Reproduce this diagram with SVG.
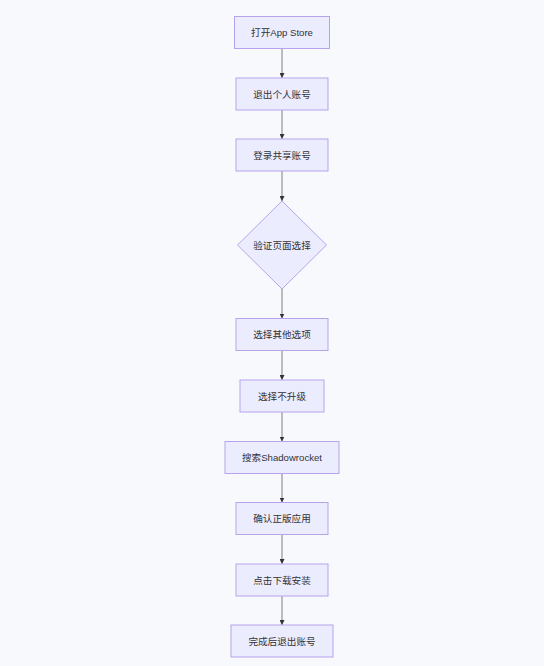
<svg xmlns="http://www.w3.org/2000/svg" width="544" height="666" viewBox="0 0 544 666">
<style>
.bg{fill:#f8f9fc}
.n{fill:#ececff;stroke:#b7a3ec;stroke-width:1}
.t{font-family:"Liberation Sans","Noto Sans CJK SC",sans-serif;font-size:9.6px;fill:#333;text-anchor:middle;dominant-baseline:central}
.e{stroke:#b5b5b5;stroke-width:1.8;fill:none}
</style>
<defs>
<marker id="arr" viewBox="0 0 10 10" refX="10" refY="5" markerWidth="5" markerHeight="5" markerUnits="userSpaceOnUse" orient="auto">
<path d="M0,0 L10,5 L0,10 z" fill="#333"/>
</marker>
</defs>
<rect class="bg" x="0" y="0" width="544" height="666"/>
<g id="edges">
<line class="e" x1="282" y1="48.5" x2="282" y2="78" marker-end="url(#arr)"/>
<line class="e" x1="282" y1="110" x2="282" y2="139" marker-end="url(#arr)"/>
<line class="e" x1="282" y1="171" x2="282" y2="201" marker-end="url(#arr)"/>
<line class="e" x1="282" y1="289" x2="282" y2="318.5" marker-end="url(#arr)"/>
<line class="e" x1="282" y1="350.5" x2="282" y2="380" marker-end="url(#arr)"/>
<line class="e" x1="282" y1="412" x2="282" y2="441.5" marker-end="url(#arr)"/>
<line class="e" x1="282" y1="473.5" x2="282" y2="502.5" marker-end="url(#arr)"/>
<line class="e" x1="282" y1="534.5" x2="282" y2="564" marker-end="url(#arr)"/>
<line class="e" x1="282" y1="596" x2="282" y2="625" marker-end="url(#arr)"/>
</g>
<g id="n1"><rect class="n" x="234.5" y="16.5" width="95" height="32"/><text class="t" x="282" y="32.5">打开App Store</text></g>
<g id="n2"><rect class="n" x="236" y="78" width="92" height="32"/><text class="t" x="282" y="94">退出个人账号</text></g>
<g id="n3"><rect class="n" x="236" y="139" width="92" height="32"/><text class="t" x="282" y="155">登录共享账号</text></g>
<g id="n4"><polygon class="n" points="282,201 326.5,245 282,289 237.5,245"/><text class="t" x="282" y="245">验证页面选择</text></g>
<g id="n5"><rect class="n" x="236" y="318.5" width="92" height="32"/><text class="t" x="282" y="334.5">选择其他选项</text></g>
<g id="n6"><rect class="n" x="240" y="380" width="84" height="32"/><text class="t" x="282" y="396">选择不升级</text></g>
<g id="n7"><rect class="n" x="225" y="441.5" width="114" height="32"/><text class="t" x="282" y="457.5">搜索Shadowrocket</text></g>
<g id="n8"><rect class="n" x="236" y="502.5" width="92" height="32"/><text class="t" x="282" y="518.5">确认正版应用</text></g>
<g id="n9"><rect class="n" x="236" y="564" width="92" height="32"/><text class="t" x="282" y="580">点击下载安装</text></g>
<g id="n10"><rect class="n" x="231" y="625" width="102" height="32"/><text class="t" x="282" y="641">完成后退出账号</text></g>
</svg>
